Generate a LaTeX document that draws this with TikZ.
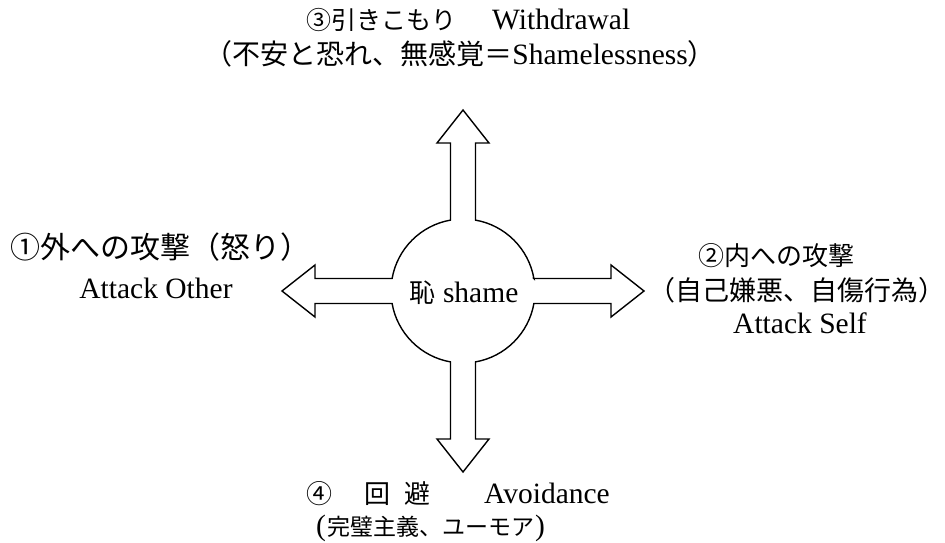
\documentclass[tikz,border=0pt]{standalone}
\usepackage{fontspec}
\setmainfont{Liberation Serif}
\newfontfamily\jpfont{Noto Sans CJK JP}
\newcommand{\jt}[1]{{\jpfont #1}}
\begin{document}
\begin{tikzpicture}[x=1pt,y=-1pt,
  txt/.style={font=\fontsize{29.5}{34}\selectfont, inner sep=0pt, anchor=base},
  outline/.style={draw=black, line width=1.4pt, line join=miter, fill=white}]
\useasboundingbox (0,0) rectangle (945,543);
\begin{scope}[shift={(463,291)}]
\draw[outline] (70.9,-12.5) -- (148,-12.5) -- (148,-26) -- (181,0) -- (148,26) -- (148,12.5) -- (70.9,12.5)
  arc[start angle=10,end angle=80,radius=72]
  -- (12.5,148) -- (26,148) -- (0,181) -- (-26,148) -- (-12.5,148) -- (-12.5,70.9)
  arc[start angle=100,end angle=170,radius=72]
  -- (-148,12.5) -- (-148,26) -- (-181,0) -- (-148,-26) -- (-148,-12.5) -- (-70.9,-12.5)
  arc[start angle=190,end angle=260,radius=72]
  -- (-12.5,-148) -- (-26,-148) -- (0,-181) -- (26,-148) -- (12.5,-148) -- (12.5,-70.9)
  arc[start angle=280,end angle=350,radius=72] -- cycle;
\end{scope}
\node[txt] (shame) at (464,302) {{\jpfont\fontsize{26}{30}\selectfont 恥} shame};
\node[txt, anchor=base west] (w1) at (306,30) {{\jpfont\fontsize{25}{30}\selectfont ③引きこもり}\hspace{36pt}Withdrawal};
\node[txt] (w2) at (460,65) {{\jpfont\fontsize{28}{30}\selectfont （不安と恐れ、無感覚＝}Shamelessness{\jpfont\fontsize{28}{30}\selectfont ）}};
\node[txt] (a1) at (160,258) {{\jpfont\fontsize{30}{34}\selectfont ①外への攻撃（怒り）}};
\node[txt] (a2) at (156,298) {Attack Other};
\node[txt] (b1) at (776,265) {{\jpfont\fontsize{26}{30}\selectfont ②内への攻撃}};
\node[txt] (b2) at (797,300) {{\jpfont\fontsize{27}{30}\selectfont （自己嫌悪、自傷行為）}};
\node[txt] (b3) at (800,333) {Attack Self};
\node[txt, anchor=base west] (d1) at (306,503) {{\jpfont\fontsize{26}{30}\selectfont ④\hspace{32pt}回\hspace{14pt}避}\hspace{54pt}Avoidance};
\node[txt, anchor=base west] (d2) at (316,535) {(\kern1pt{\jpfont\fontsize{23}{30}\selectfont 完璧主義、ユーモア}\kern1pt)};
\end{tikzpicture}
\end{document}
